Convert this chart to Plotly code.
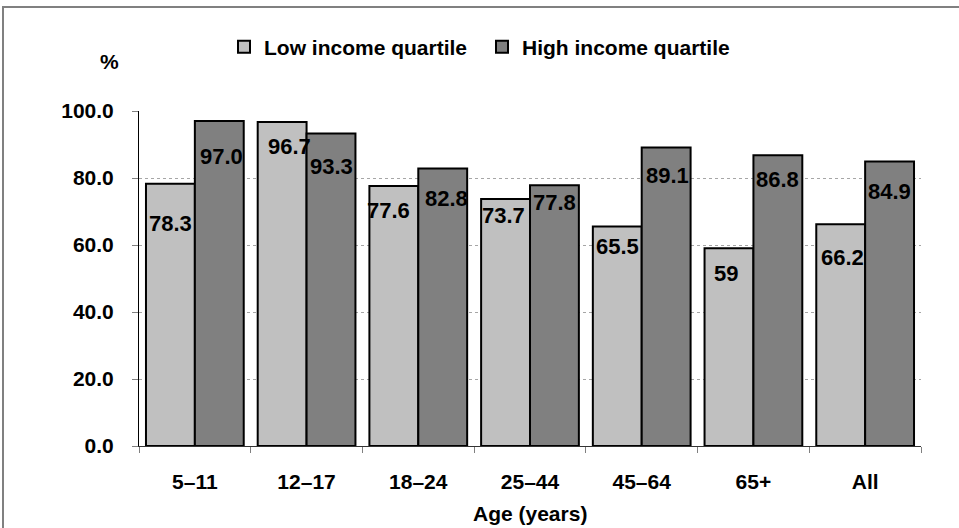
import plotly.graph_objects as go

categories = ["5–11", "12–17", "18–24", "25–44", "45–64", "65+", "All"]
low_income = [78.3, 96.7, 77.6, 73.7, 65.5, 59, 66.2]
high_income = [97.0, 93.3, 82.8, 77.8, 89.1, 86.8, 84.9]
low_labels = ["78.3", "96.7", "77.6", "73.7", "65.5", "59", "66.2"]
high_labels = ["97.0", "93.3", "82.8", "77.8", "89.1", "86.8", "84.9"]

# label placement tweaks (pixels below bar top, horizontal nudge)
low_drop = [40, 24, 24, 16, 20, 25, 33]
high_drop = [35, 33, 30, 17, 28, 24, 30]
low_nudge = [0, 7, -5, -2, 0, -3, 2]
high_nudge = [2, 0, 4, 0, 1, 0, 0]

W, H = 959, 528
ML, MT = 139, 111
MR = W - 921
MB = H - 446
PW = W - ML - MR
PH = H - MT - MB
BARGAP = 0.125
FONT = "Liberation Sans, Arial, sans-serif"

fig = go.Figure()
fig.add_trace(go.Bar(
    name="Low income quartile", x=categories, y=low_income,
    marker=dict(color="#C0C0C0", line=dict(color="#000000", width=2)),
))
fig.add_trace(go.Bar(
    name="High income quartile", x=categories, y=high_income,
    marker=dict(color="#808080", line=dict(color="#000000", width=2)),
))

cat_px = PW / len(categories)
half = (1 - BARGAP) / 2 / 2 * cat_px
annotations = []
for i, c in enumerate(categories):
    annotations.append(dict(
        x=c, y=low_income[i], xref="x", yref="y", text=low_labels[i],
        showarrow=False, xanchor="center", yanchor="middle",
        xshift=-half + low_nudge[i], yshift=-low_drop[i],
        font=dict(family=FONT, size=22, color="#000000", weight="bold"),
    ))
    annotations.append(dict(
        x=c, y=high_income[i], xref="x", yref="y", text=high_labels[i],
        showarrow=False, xanchor="center", yanchor="middle",
        xshift=half + high_nudge[i], yshift=-high_drop[i],
        font=dict(family=FONT, size=22, color="#000000", weight="bold"),
    ))

def px_x(p):
    return (p - ML) / PW

def px_y(p):
    return (H - MB - p) / PH

annotations.append(dict(
    x=px_x(109), y=px_y(62), xref="paper", yref="paper", text="%",
    showarrow=False, xanchor="center", yanchor="middle",
    font=dict(family=FONT, size=21, color="#000000", weight="bold"),
))
annotations.append(dict(
    x=0.5, y=px_y(513), xref="paper", yref="paper", text="Age (years)",
    showarrow=False, xanchor="center", yanchor="middle",
    font=dict(family=FONT, size=21, color="#000000", weight="bold"),
))

fig.update_layout(
    width=W, height=H,
    margin=dict(l=ML, r=MR, t=MT, b=MB, pad=0),
    paper_bgcolor="#FFFFFF", plot_bgcolor="#FFFFFF",
    barmode="group", bargap=BARGAP, bargroupgap=0,
    font=dict(family=FONT, size=21, color="#000000"),
    showlegend=True,
    legend=dict(
        orientation="h", x=px_x(224), y=px_y(47), xanchor="left", yanchor="middle",
        font=dict(family=FONT, size=21, color="#000000", weight="bold"),
        bgcolor="rgba(0,0,0,0)", itemwidth=30, traceorder="normal",
        entrywidth=213, entrywidthmode="pixels",
    ),
    annotations=annotations,
    shapes=[dict(
        type="rect", xref="paper", yref="paper",
        x0=px_x(3), x1=px_x(1100), y0=px_y(700), y1=px_y(7),
        line=dict(color="#808080", width=2), fillcolor="rgba(0,0,0,0)",
        layer="below",
    )],
    xaxis=dict(
        type="category", showline=True, linecolor="#333333", linewidth=1,
        ticks="outside", tickson="boundaries", ticklen=6, tickcolor="#808080",
        tickfont=dict(family=FONT, size=21, color="#000000", weight="bold"),
        ticklabelstandoff=17, showgrid=False, zeroline=False,
    ),
    yaxis=dict(
        range=[0, 100], dtick=20, tick0=0, tickformat=".1f",
        showline=True, linecolor="#000000", linewidth=1,
        ticks="outside", ticklen=6, tickcolor="#808080",
        tickfont=dict(family=FONT, size=21, color="#000000", weight="bold"),
        ticklabelstandoff=14,
        showgrid=True, gridcolor="#A6A6A6", griddash="dot", gridwidth=1,
        zeroline=False,
    ),
)

fig.write_html(
    "out.html",
    config={"displayModeBar": False},
    post_script="document.body.style.margin='0';document.body.style.overflow='hidden';",
)
